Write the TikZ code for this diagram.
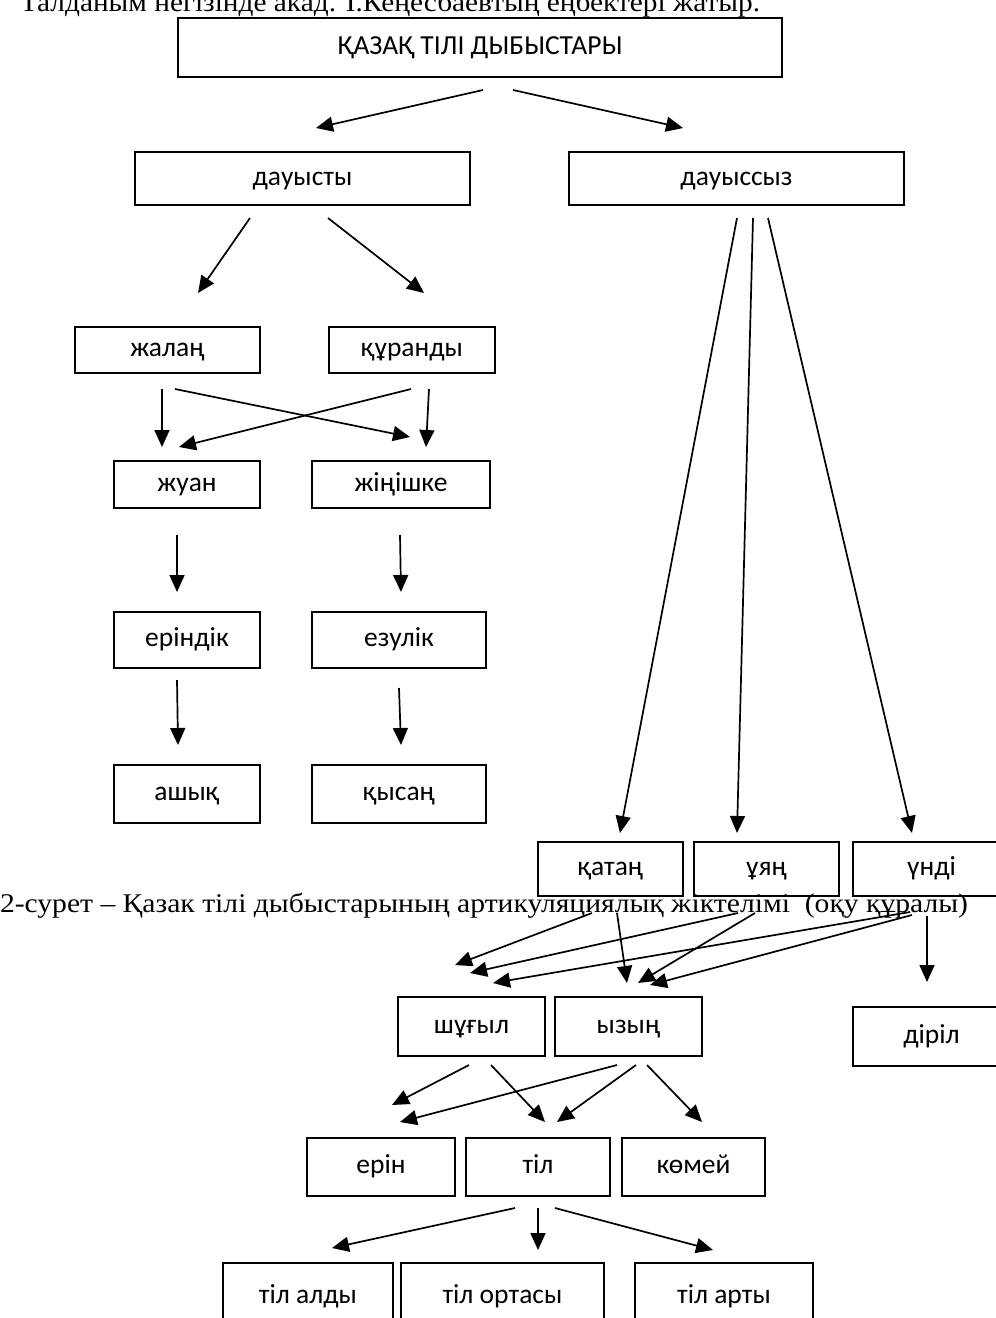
\documentclass[tikz,border=0pt]{standalone}
\usepackage{fontspec}
\setmainfont{Liberation Serif}
\newfontfamily\boxfont{Carlito}
\usetikzlibrary{arrows.meta}
\newsavebox\fitbox
\newcommand\fitw[2]{\sbox\fitbox{#2}\pgfmathsetmacro\fitr{#1/\the\wd\fitbox}\scalebox{\fitr}[1]{\usebox\fitbox}}
\newcommand\bxat[6]{\node[bx, minimum width={#4-#2}, minimum height={#5-#3}] (#1) at ({(#2+#4)/2},{(#3+#5)/2}) {#6};}
\begin{document}
\begin{tikzpicture}[x=1pt,y=-1pt,
  bx/.style={draw, line width=1.5pt, inner sep=0pt, outer sep=0pt, text height=17pt, text depth=4pt, font=\boxfont\fontsize{27.5}{30}\selectfont},
  arr/.style={line width=1.7pt, -{Triangle[length=17pt,width=15pt]}},
  txt/.style={anchor=base west, inner sep=0pt, outer sep=0pt, font=\fontsize{27}{30}\selectfont}]
\useasboundingbox (0,0) rectangle (996,1318);
% header line (clipped at top)
\node[txt] (hdr) at (20,11) {\fitw{740pt}{Талданым негізінде акад. І.Кеңесбаевтың еңбектері жатыр.}};
% boxes
\bxat{K}{178}{18}{782}{77}{ҚАЗАҚ ТІЛІ ДЫБЫСТАРЫ}
\bxat{dv}{135}{152}{470}{205}{дауысты}
\bxat{dz}{569}{152}{904}{205}{дауыссыз}
\bxat{jl}{75}{327}{260}{373}{жалаң}
\bxat{kr}{329}{327}{495}{373}{құранды}
\bxat{ju}{114}{461}{260}{508}{жуан}
\bxat{ji}{312}{461}{490}{508}{жіңішке}
\bxat{er}{114}{612}{260}{668}{еріндік}
\bxat{ez}{312}{612}{486}{668}{езулік}
\bxat{as}{114}{765}{260}{823}{ашық}
\bxat{ks}{312}{765}{486}{823}{қысаң}
\bxat{kt}{538}{842}{683}{896}{қатаң}
\bxat{uy}{694}{842}{839}{896}{ұяң}
\bxat{un}{853}{842}{1010}{896}{үнді}
\bxat{dr}{853}{1007}{1010}{1066}{діріл}
\bxat{sh}{398}{997}{545}{1056}{шұғыл}
\bxat{yz}{555}{997}{702}{1056}{ызың}
\bxat{ern}{307}{1138}{455}{1196}{ерін}
\bxat{til}{466}{1138}{610}{1196}{тіл}
\bxat{km}{622}{1138}{765}{1196}{көмей}
\bxat{ta}{223}{1263}{393}{1330}{тіл алды}
\bxat{to}{401}{1263}{604}{1330}{тіл ортасы}
\bxat{tr}{635}{1263}{813}{1330}{тіл арты}
% caption
\node[txt] (cap) at (0,912) {\fitw{968pt}{2-сурет – Қазак тілі дыбыстарының артикуляциялық жіктелімі\ \ (оқу құралы)}};
% arrow end points
\coordinate (a1) at (483,90);  \coordinate (b1) at (316,128);
\coordinate (a2) at (513,90);  \coordinate (b2) at (683,128);
\coordinate (a3) at (250,218); \coordinate (b3) at (198,293);
\coordinate (a4) at (328,218); \coordinate (b4) at (424,293);
\coordinate (a5) at (737,218); \coordinate (b5) at (620,833);
\coordinate (a6) at (753,218); \coordinate (b6) at (737,833);
\coordinate (a7) at (768,218); \coordinate (b7) at (912,833);
\coordinate (a8) at (162,389); \coordinate (b8) at (162,447);
\coordinate (a9) at (175,389); \coordinate (b9) at (410,437);
\coordinate (a10) at (411,389); \coordinate (b10) at (179,447);
\coordinate (a11) at (429,389); \coordinate (b11) at (426,447);
\coordinate (a12) at (177,535); \coordinate (b12) at (177,592);
\coordinate (a13) at (400,535); \coordinate (b13) at (401,592);
\coordinate (a14) at (177,680); \coordinate (b14) at (178,745);
\coordinate (a15) at (399,688); \coordinate (b15) at (401,745);
\coordinate (a16) at (592,913); \coordinate (b16) at (455,965);
\coordinate (a17) at (617,913); \coordinate (b17) at (627,983);
\coordinate (a18) at (738,913); \coordinate (b18) at (470,973);
\coordinate (a19) at (755,913); \coordinate (b19) at (638,983);
\coordinate (a20) at (910,912); \coordinate (b20) at (493,983);
\coordinate (a21) at (912,915); \coordinate (b21) at (650,985);
\coordinate (a22) at (927,916); \coordinate (b22) at (927,982);
\coordinate (a23) at (469,1065); \coordinate (b23) at (392,1105);
\coordinate (a24) at (491,1065); \coordinate (b24) at (545,1122);
\coordinate (a25) at (617,1065); \coordinate (b25) at (400,1122);
\coordinate (a26) at (636,1065); \coordinate (b26) at (557,1122);
\coordinate (a27) at (647,1065); \coordinate (b27) at (702,1122);
\coordinate (a28) at (515,1208); \coordinate (b28) at (332,1248);
\coordinate (a29) at (538,1208); \coordinate (b29) at (538,1250);
\coordinate (a30) at (555,1208); \coordinate (b30) at (713,1250);
\foreach \i in {1,...,30} {\draw[arr] (a\i) -- (b\i);}
\end{tikzpicture}
\end{document}
